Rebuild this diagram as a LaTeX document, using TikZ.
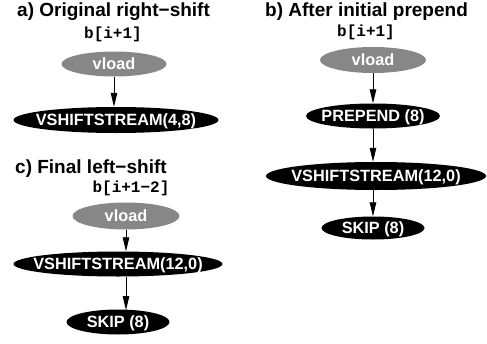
\documentclass[tikz,border=0pt]{standalone}
\usepackage{fontspec}
\setmainfont{Liberation Sans}
\newfontfamily\codefont{Liberation Mono}
\usetikzlibrary{shapes.geometric,arrows.meta}
\newcommand{\ntext}[1]{\makebox[0pt]{#1}}
\tikzset{
  ttl/.style={anchor=base west,font=\fontsize{19}{21}\selectfont\bfseries,inner sep=0pt},
  code/.style={anchor=base,font=\codefont\fontsize{16}{18}\selectfont\bfseries,inner sep=0pt},
  ell/.style={ellipse,text=white,inner sep=0pt,text height=11.6pt,text depth=0pt,
    font=\fontsize{16.3}{18}\selectfont\bfseries},
  gnode/.style={ell,fill=black!47},
  bnode/.style={ell,fill=black},
  arr/.style={-{Triangle[length=14pt,width=6.5pt]},line width=0.8pt}
}
\begin{document}
\begin{tikzpicture}[x=1pt,y=-1pt]
\useasboundingbox (0,0) rectangle (487,343);
% panel a
\node[ttl] (ta) at (17,16.7) {a) Original right−shift};
\node[code] (la) at (113,38) {b[i+1]};
\node[gnode,minimum width=105pt,minimum height=25pt] (va) at (114,64) {\ntext{vload}};
\node[bnode,minimum width=205pt,minimum height=26pt] (sa) at (116,120) {\ntext{VSHIFTSTREAM(4,8)}};
\draw[arr] (va.south) -- (va.south |- sa.north);
% panel b
\node[ttl] (tb) at (265,16.5) {b) After initial prepend};
\node[code] (lb) at (366,36.7) {b[i+1]};
\node[gnode,minimum width=106pt,minimum height=26pt] (vb) at (373,60) {\ntext{vload}};
\node[bnode,minimum width=134pt,minimum height=25pt] (pb) at (373,116) {\ntext{PREPEND (8)}};
\node[bnode,minimum width=220pt,minimum height=28pt] (sb) at (376,176) {\ntext{VSHIFTSTREAM(12,0)}};
\node[bnode,minimum width=103pt,minimum height=23pt] (kb) at (373,228) {\ntext{SKIP (8)}};
\draw[arr] (vb.south) -- (vb.south |- pb.north);
\draw[arr] (pb.south) -- (pb.south |- sb.north);
\draw[arr] (sb.south -| kb.north) -- (kb.north);
% panel c
\node[ttl] (tc) at (15,173) {c) Final left−shift};
\node[code] (lc) at (131,192) {b[i+1−2]};
\node[gnode,minimum width=107pt,minimum height=27pt] (vc) at (126,216) {\ntext{vload}};
\node[bnode,minimum width=209pt,minimum height=25pt] (sc) at (118,264) {\ntext{VSHIFTSTREAM(12,0)}};
\node[bnode,minimum width=103pt,minimum height=25pt] (kc) at (118,322) {\ntext{SKIP (8)}};
\coordinate (kct) at ([yshift=-0.8pt]kc.north -| vc.south);
\draw[arr] (vc.south) -- (vc.south |- sc.north);
\draw[arr] (sc.south -| vc.south) -- (kct);
\end{tikzpicture}
\end{document}
